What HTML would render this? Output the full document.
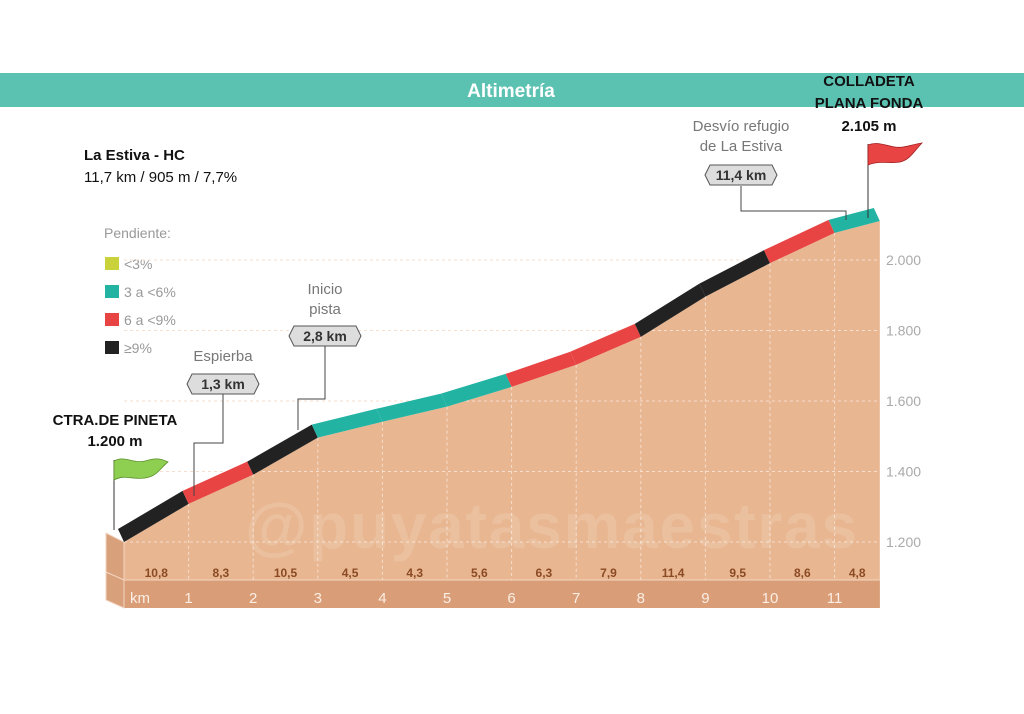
<!DOCTYPE html>
<html><head><meta charset="utf-8"><style>
html,body{margin:0;padding:0;background:#fff;}
body{width:1024px;height:709px;overflow:hidden;font-family:"Liberation Sans",sans-serif;}
svg text{font-family:"Liberation Sans",sans-serif;}
</style></head><body>
<svg id="c" width="1024" height="709" viewBox="0 0 1024 709">
<rect x="0" y="73" width="1024" height="34" fill="#5bc2b2"/>
<text x="511" y="97" text-anchor="middle" font-size="19" font-weight="bold" fill="#fff">Altimetría</text>
<text x="84" y="160" font-size="15" font-weight="bold" fill="#111">La Estiva - HC</text>
<text x="84" y="182" font-size="15" fill="#111">11,7 km / 905 m / 7,7%</text>
<g>
<text x="104" y="238" font-size="14" fill="#999">Pendiente:</text>
<rect x="105" y="257" width="14" height="13" fill="#c9d23a"/>
<text x="124" y="269" font-size="14" fill="#999">&lt;3%</text>
<rect x="105" y="285" width="14" height="13" fill="#22b3a3"/>
<text x="124" y="297" font-size="14" fill="#999">3 a &lt;6%</text>
<rect x="105" y="313" width="14" height="13" fill="#e84444"/>
<text x="124" y="325" font-size="14" fill="#999">6 a &lt;9%</text>
<rect x="105" y="341" width="14" height="13" fill="#222"/>
<text x="124" y="353" font-size="14" fill="#999">≥9%</text>
</g>
<g id="plot"></g>
<text x="245" y="548" font-size="64" font-weight="bold" fill="#fff" fill-opacity="0.14" textLength="612">@puyatasmaestras</text>
<g id="ann"></g>
</svg>
<script>
const kmMarks=[0,1,2,3,4,5,6,7,8,9,10,11];
const grades=[10.8,8.3,10.5,4.5,4.3,5.6,6.3,7.9,11.4,9.5,8.6,4.8];
const gradeLabels=["10,8","8,3","10,5","4,5","4,3","5,6","6,3","7,9","11,4","9,5","8,6","4,8"];
const totalKm=11.7;
const startElev=1200;
const elevTicks=[1200,1400,1600,1800,2000];
const elevTickLabels=["1.200","1.400","1.600","1.800","2.000"];
const kmTickLabels=["1","2","3","4","5","6","7","8","9","10","11"];

const X=k=>124+k*64.6;
const Y=e=>542-(e-1200)*0.3525;
const NS='http://www.w3.org/2000/svg';
function mk(tag,attrs,parent){const el=document.createElementNS(NS,tag);for(const k in attrs)el.setAttribute(k,attrs[k]);parent.appendChild(el);return el;}
const plot=document.getElementById('plot');
const ann=document.getElementById('ann');
function colorFor(g){return g<3?'#c9d23a':g<6?'#22b3a3':g<9?'#e84444':'#222';}
const bounds=[0];const elevs=[startElev];
for(let i=0;i<grades.length;i++){const k1=Math.min(i+1,totalKm);bounds.push(k1);elevs.push(elevs[i]+grades[i]*10*(k1-i));}
const baseY=Y(startElev), rowY=580, botY=608;
let pts=[];
for(let i=0;i<bounds.length;i++)pts.push([X(bounds[i]),Y(elevs[i])]);
let area=mk('polygon',{points:[...pts,[X(totalKm),botY],[X(0),botY]].map(p=>p.join(',')).join(' '),fill:'#e8b690'},plot);


let row=mk('rect',{x:X(0),y:rowY,width:X(totalKm)-X(0),height:botY-rowY,fill:'#d99e78'},plot);


let lf=mk('polygon',{points:`106,533 ${X(0)},${baseY} ${X(0)},${botY} 106,600`,fill:'#d9a07c',stroke:'#f3d6c2','stroke-width':1},plot);


mk('line',{x1:X(0),y1:rowY,x2:X(totalKm),y2:rowY,stroke:'#f3d6c2','stroke-width':1},plot);
mk('line',{x1:106,y1:572,x2:X(0),y2:rowY,stroke:'#f3d6c2','stroke-width':1},plot);
elevTicks.forEach((e,i)=>{
 const l=mk('line',{x1:X(0),y1:Y(e),x2:X(totalKm),y2:Y(e),stroke:'#f6dfcf','stroke-width':1,'stroke-dasharray':'3,3'},plot);
 
 
 const t=mk('text',{x:886,y:Y(e)+5,'font-size':14,fill:'#aaa'},plot);t.textContent=elevTickLabels[i];
 
 
});
kmMarks.slice(1).forEach((k,i)=>{
 const l=mk('line',{x1:X(k),y1:Y(elevs[k]),x2:X(k),y2:rowY,stroke:'#f6dfcf','stroke-width':1,'stroke-dasharray':'3,3'},plot);
 
 
 const t=mk('text',{x:X(k),y:603,'font-size':15,fill:'#fbeee4','text-anchor':'middle'},plot);t.textContent=kmTickLabels[i];
 
 
});
const kmT=mk('text',{x:130,y:603,'font-size':15,fill:'#fbeee4'},plot);kmT.textContent='km';


grades.forEach((g,i)=>{
 const t=mk('text',{x:(X(bounds[i])+X(bounds[i+1]))/2,y:577,'font-size':12,'font-weight':'bold',fill:'#8a4a24','text-anchor':'middle'},plot);t.textContent=gradeLabels[i];
 
 
 const x0=X(bounds[i]),x1=X(bounds[i+1]),y0=Y(elevs[i]),y1=Y(elevs[i+1]);
 const b=mk('polygon',{points:`${x0},${y0} ${x1},${y1} ${x1-6},${y1-13} ${x0-6},${y0-13}`,fill:colorFor(g)},plot);
 
 
});
function label(x,y,txt,name){const g=mk('g',{},ann);
 mk('polygon',{points:`${x-36},${y} ${x-31},${y-10} ${x+31},${y-10} ${x+36},${y} ${x+31},${y+10} ${x-31},${y+10}`,fill:'#ddd',stroke:'#555','stroke-width':1},g);
 const t=mk('text',{x:x,y:y+5,'font-size':14,'font-weight':'bold',fill:'#333','text-anchor':'middle'},g);t.textContent=txt;}
function line(pts){mk('polyline',{points:pts.map(p=>p.join(',')).join(' '),fill:'none',stroke:'#444','stroke-width':1},ann);}
line([[223,394],[223,443],[194,443],[194,496]]);
label(223,384,'1,3 km','km-1-3-badge');
line([[325,346],[325,399],[298,399],[298,430]]);
label(325,336,'2,8 km','km-2-8-badge');
line([[741,186],[741,211],[846,211],[846,220]]);
label(741,175,'11,4 km','km-11-4-badge');
function txt(x,y,s,sz,w,c,a,n){const t=mk('text',{x:x,y:y,'font-size':sz,'font-weight':w,fill:c,'text-anchor':a},ann);t.textContent=s;}
txt(223,361,'Espierba',15,'normal','#777','middle','label-espierba');
txt(325,294,'Inicio',15,'normal','#777','middle','label-inicio');
txt(325,314,'pista',15,'normal','#777','middle','label-pista');
txt(741,131,'Desvío refugio',15,'normal','#777','middle','label-desvio');
txt(741,151,'de La Estiva',15,'normal','#777','middle','label-estiva');
txt(115,425,'CTRA.DE PINETA',15,'bold','#111','middle','start-name');
txt(115,446,'1.200 m',15,'bold','#111','middle','start-elevation');
txt(869,86,'COLLADETA',15,'bold','#111','middle','summit-name-1');
txt(869,108,'PLANA FONDA',15,'bold','#111','middle','summit-name-2');
txt(869,131,'2.105 m',15,'bold','#111','middle','summit-elevation');
mk('line',{x1:114,y1:460,x2:114,y2:530,stroke:'#333','stroke-width':1},ann);
const f1=mk('path',{d:'M114,461 C125,455 132,464 145,461 C155,458 160,458 168,462 C160,468 158,476 145,478 C132,480 125,474 114,480 Z',fill:'#8ecf52',stroke:'#5a8f2a','stroke-width':0.8},ann);

mk('line',{x1:868,y1:144,x2:868,y2:218,stroke:'#333','stroke-width':1},ann);
const f2=mk('path',{d:'M868,145 C880,140 890,149 903,147 C910,146 915,144 922,143 C915,150 910,160 900,162 C890,164 880,160 868,165 Z',fill:'#e84444',stroke:'#a02020','stroke-width':0.8},ann);

</script>
</body></html>
